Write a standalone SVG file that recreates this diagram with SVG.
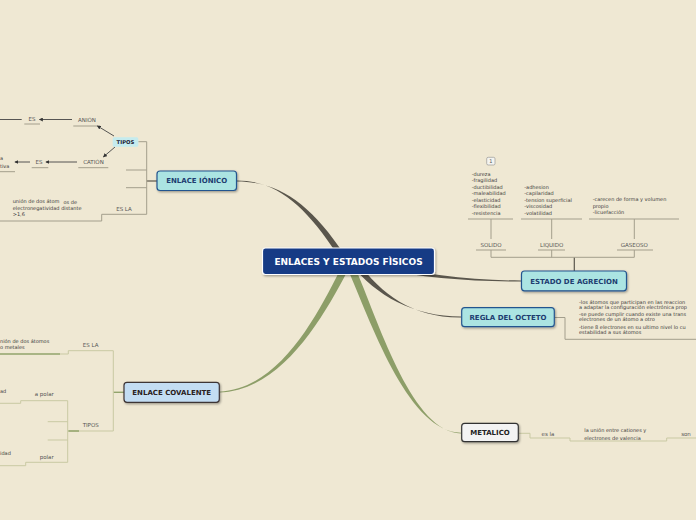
<svg xmlns="http://www.w3.org/2000/svg" width="696" height="520" viewBox="0 0 696 520">
<defs>
<style>
.bg{fill:#efe8d3}
.t{font-family:"DejaVu Sans",Verdana,sans-serif}
.sm{font-size:5px;fill:#3a3a3a}
.lb{font-size:5.5px;fill:#555;text-anchor:middle}
.nt{font-size:7px;font-weight:bold;text-anchor:middle}
.cy{fill:#abe4e2;stroke:#24558f;stroke-width:1.2}
.ln{fill:none;stroke:#a39e8c;stroke-width:1}
.dk{fill:none;stroke:#5a564c;stroke-width:1.2}
.pl{fill:none;stroke:#c9c9a3;stroke-width:1}
.gr{fill:none;stroke:#92a46c;stroke-width:1.4}
.ar{fill:none;stroke:#444;stroke-width:0.9;marker-end:url(#ah)}
</style>
<marker id="ah" viewBox="0 0 6 6" refX="5" refY="3" markerWidth="4" markerHeight="4" orient="auto" markerUnits="userSpaceOnUse"><path d="M0,0 L6,3 L0,6 Z" fill="#333"/></marker>
<filter id="sh" x="-10%" y="-20%" width="130%" height="160%"><feDropShadow dx="1" dy="1.2" stdDeviation="0.8" flood-color="#000" flood-opacity="0.35"/></filter>
</defs>
<rect class="bg" x="0" y="0" width="696" height="520"/>

<g id="connectors">
<!-- main tapered branches -->
<path d="M337,254 C306,207 278,180.5 237,180.5 L237,181.5 C280,181.6 311,205 344,254 Z" fill="#5a564c"/>
<path d="M380,264 C420,273.8 470,280.5 521,280.5 L521,281.5 C470,281.6 420,277.5 380,268.5 Z" fill="#5a564c"/>
<path d="M351,264 C376,296 414,316.5 461,316.5 L461,317.5 C413,318 381,294 358,262 Z" fill="#5a564c"/>
<path d="M340,270 C316,318 278,389.5 219,391.7 L219,392.5 C281,390.5 322,320 348,270 Z" fill="#8d9e68"/>
<path d="M349,272 C374,331 410,432 461,432.7 L461,433.5 C413,432 381,329 357,272 Z" fill="#8d9e68"/>

<!-- ionic subtree -->
<path class="dk" d="M157,181 H146.7"/>
<path class="ln" d="M138.3,141.7 H146.7 V214.3 H101.7 V221 H0"/>
<path class="ln" d="M126,170 H146.7 M126,187.7 H146.7"/>
<path class="ln" d="M73.3,126 H100 M24.3,124 H40 M78.3,167.7 H108.3 M31.7,167.7 H48.3 M0,171.7 H15"/>
<path class="ar" d="M114,136 L97.5,126"/>
<path class="ar" d="M115,147 L103.5,156.8"/>
<path class="ar" d="M72,119.5 L39.5,119.5"/>
<path fill="none" stroke="#444" stroke-width="0.9" d="M21.7,119.5 H0"/>
<path class="ar" d="M77,162 L46,162"/>
<path class="ar" d="M30,162 L15,162"/>

<!-- estado subtree -->
<path class="dk" d="M574.3,271 V257.3"/>
<path class="ln" d="M491,250 V257.3 H634.3 V250 M551.7,250 V257.3"/>
<path class="ln" d="M476,250 H506 M538,250 H565 M617,250 H653"/>
<path class="ln" d="M491,239 V219 M551.7,239 V219 M634.3,239 V219"/>
<path class="ln" d="M468,219 H513 M521,219 H582 M589,219 H679"/>

<!-- regla subtree -->
<path class="ln" d="M554.3,317.5 H565 V339.3 H696"/>

<!-- covalente subtree -->
<path class="gr" d="M124,392.3 H113.3"/>
<path class="pl" d="M113.3,350.7 V431 H68.3 M113.3,350.7 H68.3 V354 H60"/>
<path class="gr" d="M60,354 H0 M68.3,431 H79"/>
<path class="pl" d="M67.7,400.7 V462.3 M67.7,400.7 H20.7 V403.3 H0 M67.7,462.3 H25.7 V465.7 H0 M47.7,421.7 H67.7 M47.7,440 H67.7"/>

<!-- metalico subtree -->
<path class="pl" d="M518.3,433.3 H530 V438 H570 V441 H666.7 V438 H696" stroke="#c4c1a2"/>
</g>

<g id="n-central" class="t">
<rect x="262.5" y="248" width="172" height="26.5" rx="3" fill="#163b85" stroke="#ffffff" stroke-width="1.2" filter="url(#sh)"/>
<text x="348.5" y="265.3" font-size="9" font-weight="bold" fill="#ffffff" text-anchor="middle">ENLACES Y ESTADOS FÌSICOS</text>
</g>

<g id="n-ionico" class="t">
<rect class="cy" x="157" y="171" width="79.5" height="19.5" rx="3" filter="url(#sh)"/>
<text class="nt" x="196.7" y="183.3" fill="#1d3c70">ENLACE IÓNICO</text>
</g>
<g id="n-tipos-ionico" class="t">
<rect x="112.7" y="137.3" width="25.6" height="9.4" rx="1.5" fill="#c5ebee"/>
<text x="125.5" y="143.9" font-size="5.3" font-weight="bold" fill="#223" text-anchor="middle">TIPOS</text>
</g>
<g id="n-anion" class="t"><text class="lb" x="87" y="122">ANIÓN</text></g>
<g id="n-es1" class="t"><text class="lb" x="32" y="120.5">ES</text></g>
<g id="n-cation" class="t"><text class="lb" x="93.5" y="164">CATIÓN</text></g>
<g id="n-es2" class="t"><text class="lb" x="39" y="164">ES</text></g>
<g id="n-tiva" class="t"><text class="sm" x="0" y="160">a</text><text class="sm" x="0" y="168">tiva</text></g>
<g id="n-esla-ionico" class="t"><text class="lb" x="124" y="211">ES LA</text></g>
<g id="n-union-ionico" class="t">
<text class="sm" x="12.7" y="203">unión de dos átom</text>
<text class="sm" x="63.5" y="204">os de</text>
<text class="sm" x="12.7" y="209.7">electronegatividad distante</text>
<text class="sm" x="12.7" y="216">&gt;1,6</text>
</g>

<g id="n-estado" class="t">
<rect class="cy" x="521.5" y="271" width="105" height="19.8" rx="3" filter="url(#sh)"/>
<text class="nt" x="574" y="283.5" fill="#1d3c70">ESTADO DE AGRECION</text>
</g>
<g id="n-solido" class="t"><text class="lb" x="491" y="247">SOLIDO</text></g>
<g id="n-liquido" class="t"><text class="lb" x="551.7" y="247">LIQUIDO</text></g>
<g id="n-gaseoso" class="t"><text class="lb" x="634.3" y="247">GASEOSO</text></g>
<g id="n-solido-props" class="t">
<rect x="486.7" y="157.3" width="8.3" height="7.7" rx="1.5" fill="#f4f4f0" stroke="#8a8a8a" stroke-width="0.6"/>
<text x="490.9" y="163" font-size="5" fill="#555" text-anchor="middle">1</text>
<text class="sm" x="471.7" y="175.5">-dureza</text>
<text class="sm" x="471.7" y="182">-fragilidad</text>
<text class="sm" x="471.7" y="188.5">-ductibilidad</text>
<text class="sm" x="471.7" y="195">-maleabilidad</text>
<text class="sm" x="471.7" y="201.5">-elasticidad</text>
<text class="sm" x="471.7" y="208">-flexibilidad</text>
<text class="sm" x="471.7" y="214.5">-resistencia</text>
</g>
<g id="n-liquido-props" class="t">
<text class="sm" x="524.3" y="188.5">-adhesion</text>
<text class="sm" x="524.3" y="195">-capilaridad</text>
<text class="sm" x="524.3" y="201.5">-tension superficial</text>
<text class="sm" x="524.3" y="208">-viscosidad</text>
<text class="sm" x="524.3" y="214.5">-volatilidad</text>
</g>
<g id="n-gaseoso-props" class="t">
<text class="sm" x="592.7" y="201.3">-carecen de forma y volumen</text>
<text class="sm" x="592.7" y="208">propio</text>
<text class="sm" x="592.7" y="214.3">-licuefacción</text>
</g>

<g id="n-regla" class="t">
<rect class="cy" x="461.7" y="307.7" width="92.6" height="19" rx="3" filter="url(#sh)"/>
<text class="nt" x="508" y="319.8" fill="#1d3c70">REGLA DEL OCTETO</text>
</g>
<g id="n-regla-text" class="t">
<text class="sm" x="579" y="303.8">-los átomos que participan en las reaccion</text>
<text class="sm" x="579" y="308.8">a adaptar la configuración electrónica prop</text>
<text class="sm" x="579" y="316">-se puede cumplir cuando existe una trans</text>
<text class="sm" x="579" y="321">electrones de un átomo a otro</text>
<text class="sm" x="579" y="328.8">-tiene 8 electrones en su ultimo nivel lo cu</text>
<text class="sm" x="579" y="334">estabilidad a sus átomos</text>
</g>

<g id="n-covalente" class="t">
<rect x="124" y="382.3" width="95.3" height="20" rx="3" fill="#c3ddf3" stroke="#3d3434" stroke-width="1.2" filter="url(#sh)"/>
<text class="nt" x="171.7" y="394.8" fill="#2a2020">ENLACE COVALENTE</text>
</g>
<g id="n-esla-cov" class="t"><text class="lb" x="90.7" y="347">ES LA</text></g>
<g id="n-union-cov" class="t">
<text class="sm" x="0" y="343">nión de dos átomos</text>
<text class="sm" x="0" y="349">o metales</text>
</g>
<g id="n-tipos-cov" class="t"><text class="lb" x="90.7" y="427">TIPOS</text></g>
<g id="n-apolar" class="t"><text class="lb" x="44.3" y="396">a polar</text></g>
<g id="n-ad" class="t"><text class="sm" x="0" y="393">ad</text></g>
<g id="n-polar" class="t"><text class="lb" x="46.7" y="458.5">polar</text></g>
<g id="n-idad" class="t"><text class="sm" x="0" y="455">idad</text></g>

<g id="n-metalico" class="t">
<rect x="461.7" y="423.3" width="56.6" height="18.4" rx="3" fill="#f3f3f3" stroke="#333" stroke-width="1.2" filter="url(#sh)"/>
<text class="nt" x="490" y="435" fill="#222">METALICO</text>
</g>
<g id="n-esla-met" class="t"><text class="lb" x="548" y="436">es la</text></g>
<g id="n-union-met" class="t">
<text class="sm" x="584.3" y="432.3">la unión entre cationes y</text>
<text class="sm" x="584.3" y="439.5">electrones de valencia</text>
</g>
<g id="n-son" class="t"><text class="lb" x="686" y="436">son</text></g>
</svg>
